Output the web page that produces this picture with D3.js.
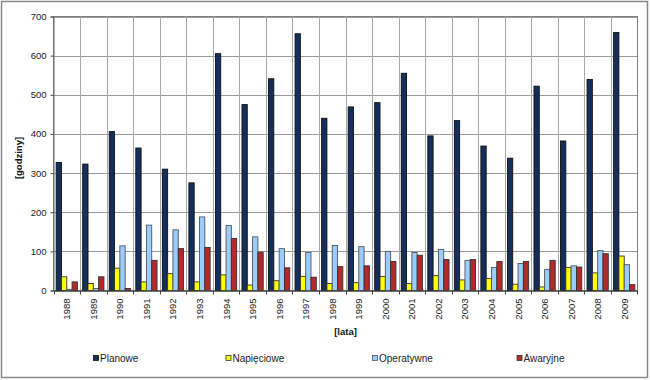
<!DOCTYPE html>
<html><head><meta charset="utf-8">
<script src="https://cdn.jsdelivr.net/npm/d3@7"></script>
<style>body{margin:0;background:#fff}svg{display:block;font-family:"Liberation Sans",Arial,sans-serif}</style>
</head><body><svg id="c" width="650" height="380"></svg>
<script>
const years = ["1988","1989","1990","1991","1992","1993","1994","1995","1996","1997","1998","1999","2000","2001","2002","2003","2004","2005","2006","2007","2008","2009"];
const seriesNames = ["Planowe","Napięciowe","Operatywne","Awaryjne"];
const planowe =    [327,323,406,364,310,275,605,475,541,656,440,469,480,555,395,434,369,338,522,382,539,659];
const napieciowe = [35,18,57,22,43,22,40,14,25,36,18,20,36,18,38,27,31,16,9,59,45,88];
const operatywne = [3,5,114,167,155,188,166,137,107,97,115,112,100,97,105,77,59,69,54,63,102,66];
const awaryjne =   [22,35,5,77,107,110,133,98,58,34,61,63,74,90,79,79,74,74,77,60,94,15];
const yTicks = [0,100,200,300,400,500,600,700];
const colors = ["#142f5c","#ffff00","#99ccff","#b22a2a"];
const strokes = ["#111","#333","#555","#333"];
const data = [planowe, napieciowe, operatywne, awaryjne];

const svg = d3.select("#c");
svg.append("rect").attr("x",1.5).attr("y",1.5).attr("width",646).attr("height",376)
  .attr("fill","#fff").attr("stroke","#8a8a8a").attr("stroke-width",1.5);

const L=53.5, R=637.5, T=16.5, B=290.5;
const x = d3.scaleBand().domain(years).range([L,R]).padding(0);
const bw = x.bandwidth()/5;
const xs = d3.scaleBand().domain(seriesNames).range([bw/2, bw/2+4*bw]).padding(0);
const y = d3.scaleLinear().domain([0,700]).range([B,T]);

// horizontal grid
svg.append("g").selectAll("line").data(yTicks).join("line")
  .attr("x1",L).attr("x2",R).attr("y1",d=>Math.round(y(d))+0.5).attr("y2",d=>Math.round(y(d))+0.5)
  .attr("stroke","#9a9a9a").attr("stroke-width",1);
// vertical grid
svg.append("g").selectAll("line").data(years.slice(1)).join("line")
  .attr("x1",d=>Math.round(x(d))+0.5).attr("x2",d=>Math.round(x(d))+0.5).attr("y1",T).attr("y2",B)
  .attr("stroke","#a8a8a8").attr("stroke-width",1);
// plot border
svg.append("rect").attr("x",L).attr("y",T).attr("width",R-L).attr("height",B-T)
  .attr("fill","none").attr("stroke","#808080").attr("stroke-width",1);

// bars
seriesNames.forEach((s,si)=>{
  svg.append("g").selectAll("rect").data(years).join("rect")
    .attr("x",(d)=>x(d)+xs(s))
    .attr("width",xs.bandwidth())
    .attr("y",(d,i)=>y(data[si][i]))
    .attr("height",(d,i)=>B-y(data[si][i]))
    .attr("fill",colors[si]).attr("stroke",strokes[si]).attr("stroke-width",0.9);
});

// y axis
const ya = d3.axisLeft(y).tickValues(yTicks).tickSize(3).tickPadding(4);
const gy = svg.append("g").attr("transform",`translate(${L},0)`).call(ya);
gy.select(".domain").attr("stroke","#666");
gy.selectAll(".tick line").attr("stroke","#444");
gy.selectAll("text").attr("font-size","9.5px").attr("fill","#222").attr("font-family","Liberation Sans, Arial, sans-serif");

// x axis
const xa = d3.axisBottom(x).tickSize(0).tickPadding(0);
const gx = svg.append("g").attr("transform",`translate(0,${B})`).call(xa);
gx.select(".domain").attr("stroke","#444");
gx.selectAll("text").attr("font-size","9.5px").attr("fill","#222")
  .attr("font-family","Liberation Sans, Arial, sans-serif")
  .attr("text-anchor","end").attr("dy",null).attr("y",0)
  .attr("transform","translate(0,8) rotate(-90)").attr("dominant-baseline","central");
// category tick marks
svg.append("g").selectAll("line").data(years.concat(["end"])).join("line")
  .attr("x1",d=>d==="end"?R:Math.round(x(d))+0.5).attr("x2",d=>d==="end"?R:Math.round(x(d))+0.5)
  .attr("y1",B).attr("y2",B+4).attr("stroke","#444");

// axis titles
svg.append("text").attr("transform","translate(22,158) rotate(-90)").attr("text-anchor","middle")
  .attr("font-size","9.5px").attr("font-weight","bold").attr("fill","#111").text("[godziny]");
svg.append("text").attr("x",345.5).attr("y",335).attr("text-anchor","middle")
  .attr("font-size","9.5px").attr("font-weight","bold").attr("fill","#111").text("[lata]");

// legend
const legX = [93.5,226,372.5,517];
const lg = svg.append("g");
seriesNames.forEach((s,i)=>{
  lg.append("rect").attr("x",legX[i]).attr("y",355.5).attr("width",5).attr("height",5)
    .attr("fill",colors[i]).attr("stroke",strokes[i]).attr("stroke-width",0.8);
  lg.append("text").attr("x",legX[i]+6.5).attr("y",362).attr("font-size","10px").attr("fill","#222").text(s);
});
</script></body></html>
